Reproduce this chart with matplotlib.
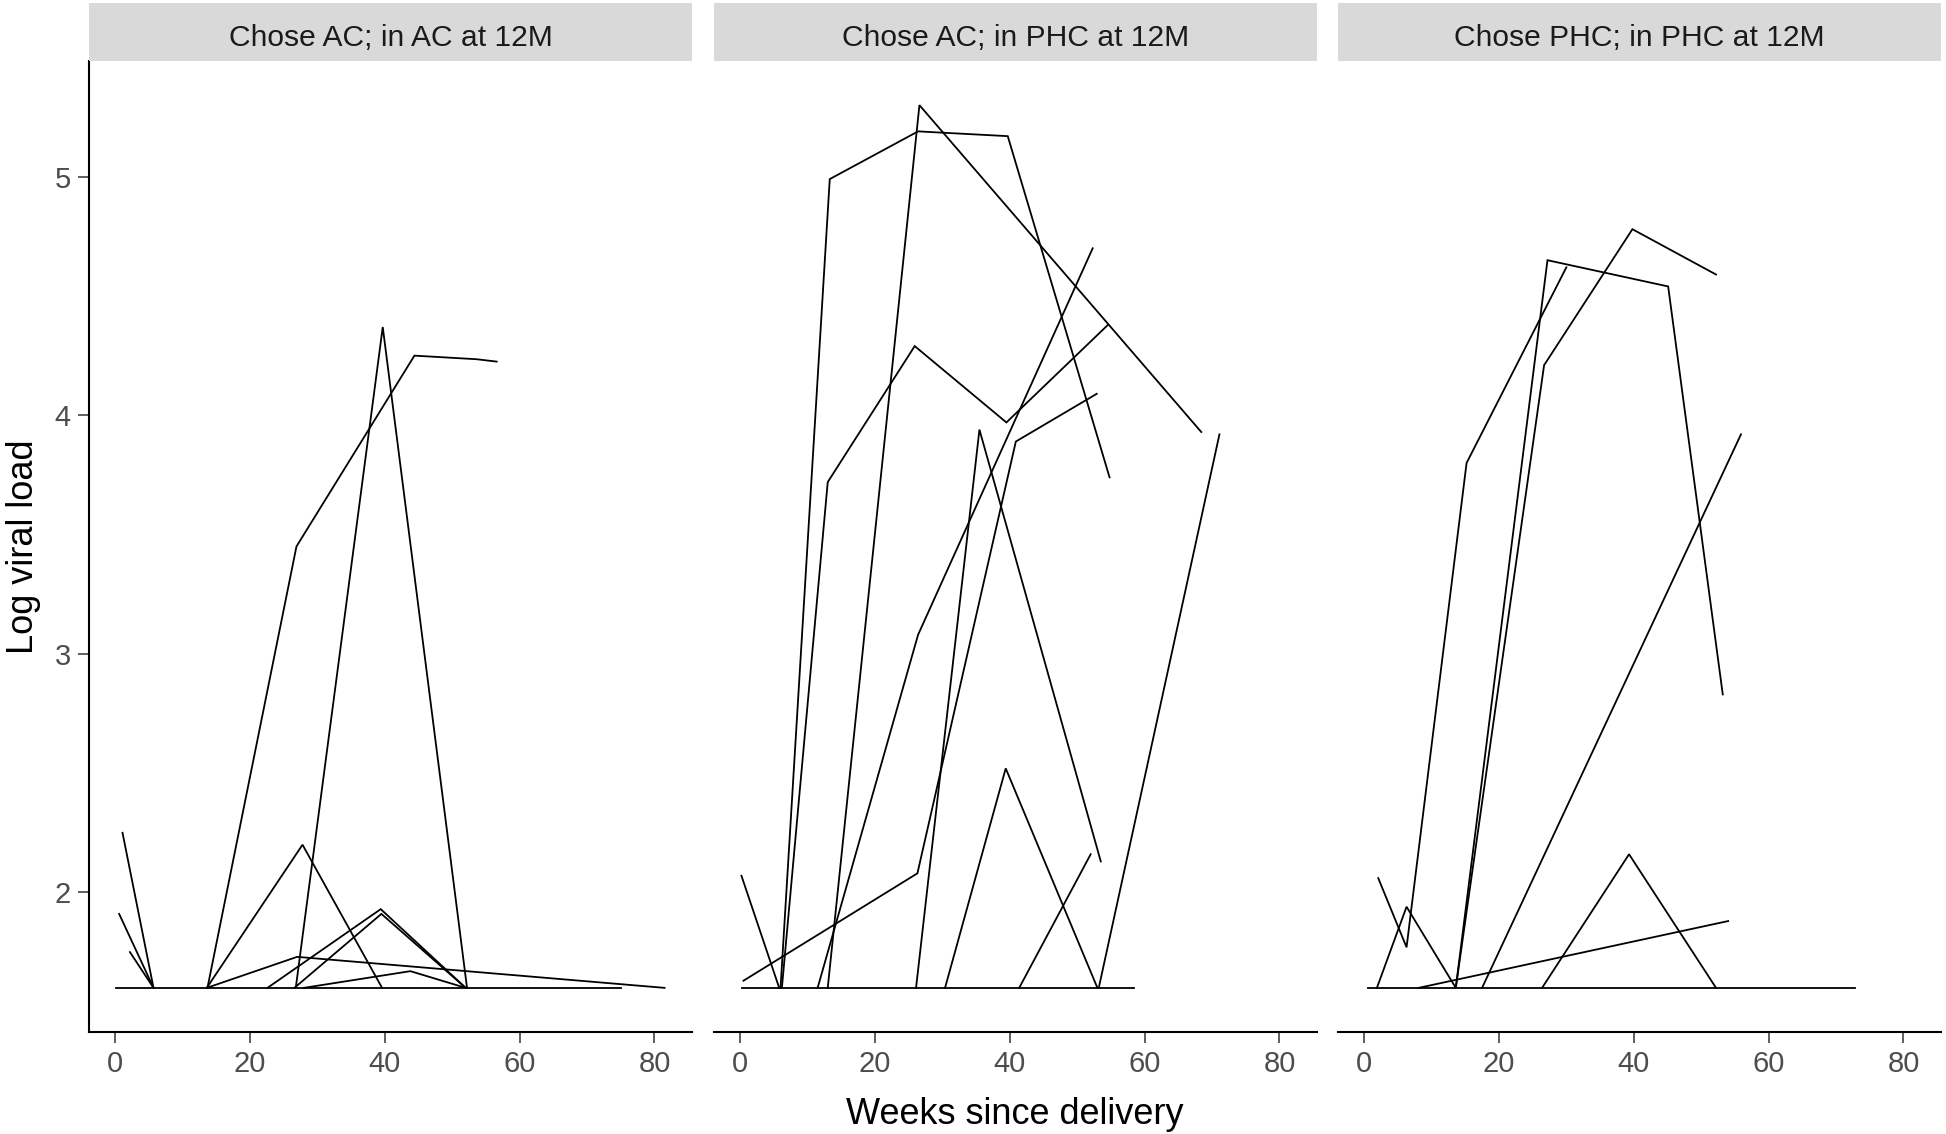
import matplotlib.pyplot as plt

plt.rcParams['font.family'] = ['Liberation Sans', 'DejaVu Sans']

panel_titles = ["Chose AC; in AC at 12M", "Chose AC; in PHC at 12M", "Chose PHC; in PHC at 12M"]

# one list per participant: weeks since delivery and log viral load
ac_ac_weeks = [
    [1.1, 5.7],
    [0.6, 5.7],
    [2.2, 5.7],
    [13.7, 26.9, 44.4, 53.6, 56.6],
    [26.8, 39.7, 52.2],
    [13.6, 27.8, 39.6],
    [22.6, 39.4, 52.0],
    [26.6, 39.5, 52.0],
    [28.0, 43.8, 52.0],
    [13.6, 27.0, 81.5],
    [0.2, 75.0],
]
ac_ac_load = [
    [2.25, 1.6],
    [1.91, 1.6],
    [1.75, 1.6],
    [1.6, 3.45, 4.25, 4.235, 4.225],
    [1.6, 4.37, 1.6],
    [1.6, 2.2, 1.6],
    [1.6, 1.93, 1.6],
    [1.6, 1.91, 1.6],
    [1.6, 1.67, 1.6],
    [1.6, 1.73, 1.6],
    [1.6, 1.6],
]

ac_phc_weeks = [
    [0.2, 5.8],
    [0.5, 26.3, 40.9, 52.9],
    [13.0, 26.6, 68.4],
    [6.0, 13.3, 26.4, 39.7, 54.8],
    [6.2, 13.0, 25.9, 39.5, 54.6],
    [11.5, 26.4, 52.3],
    [26.1, 35.5, 53.5],
    [30.4, 39.4, 53.0],
    [41.4, 52.0],
    [53.2, 71.1],
    [0.3, 58.4],
]
ac_phc_load = [
    [2.07, 1.6],
    [1.63, 2.08, 3.89, 4.09],
    [1.6, 5.30, 3.93],
    [1.6, 4.99, 5.19, 5.17, 3.74],
    [1.6, 3.72, 4.29, 3.97, 4.38],
    [1.6, 3.08, 4.70],
    [1.6, 3.94, 2.13],
    [1.6, 2.52, 1.6],
    [1.6, 2.16],
    [1.6, 3.92],
    [1.6, 1.6],
]

phc_phc_weeks = [
    [2.1, 6.3, 15.2, 30.0],
    [1.9, 6.3, 13.6],
    [13.6, 27.2, 45.1, 53.2],
    [13.6, 26.7, 39.8, 52.2],
    [17.5, 55.9],
    [26.4, 39.3, 52.2],
    [8.1, 54.0],
    [0.65, 72.8],
]
phc_phc_load = [
    [2.06, 1.77, 3.80, 4.62],
    [1.6, 1.94, 1.6],
    [1.6, 4.65, 4.54, 2.83],
    [1.6, 4.21, 4.78, 4.59],
    [1.6, 3.92],
    [1.6, 2.16, 1.6],
    [1.6, 1.88],
    [1.6, 1.6],
]

panel_weeks = [ac_ac_weeks, ac_phc_weeks, phc_phc_weeks]
panel_load = [ac_ac_load, ac_phc_load, phc_phc_load]

W, H = 1946, 1134
fig = plt.figure(figsize=(W / 100, H / 100), dpi=100)

lefts = [89, 714, 1338]  # panel left edges in pixels
pw = 603
top, bottom = 61, 1032
strip_top = 3

for i in range(3):
    ax = fig.add_axes([lefts[i] / W, 1 - bottom / H, pw / W, (bottom - top) / H])
    for wk, vl in zip(panel_weeks[i], panel_load[i]):
        ax.plot(wk, vl, color="black", lw=1.3, solid_joinstyle="miter")
    ax.set_xlim(-3.87, 85.57)
    ax.set_ylim(1.415, 5.485)
    ax.set_xticks([0, 20, 40, 60, 80])
    ax.set_yticks([2, 3, 4, 5])
    for s in ["top", "right"]:
        ax.spines[s].set_visible(False)
    ax.spines["bottom"].set_linewidth(1.5)
    ax.spines["left"].set_linewidth(1.5)
    ax.tick_params(axis="both", length=8, width=1.1, color="#333333",
                   labelcolor="#4D4D4D", labelsize=21, pad=5)
    if i > 0:
        ax.spines["left"].set_visible(False)
        ax.tick_params(axis="y", left=False, labelleft=False)
    else:
        ax.set_ylabel("Log viral load", fontsize=26, labelpad=10)

    # facet strip
    sax = fig.add_axes([lefts[i] / W, 1 - top / H, pw / W, (top - strip_top) / H])
    sax.set_facecolor("#D9D9D9")
    sax.set_xticks([])
    sax.set_yticks([])
    for s in sax.spines.values():
        s.set_visible(False)
    sax.text(0.5, 0.40, panel_titles[i], ha="center", va="center",
             fontsize=21.6, color="#1A1A1A", transform=sax.transAxes)

fig.text((lefts[0] + lefts[2] + pw) / 2 / W, 1 - 1115 / H, "Weeks since delivery",
         ha="center", va="center", fontsize=26)

fig.savefig("out.png", dpi=100)
